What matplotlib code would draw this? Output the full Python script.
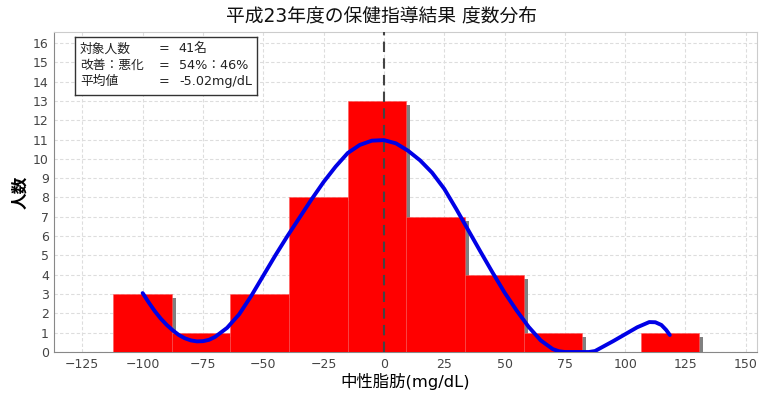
import matplotlib
matplotlib.use("Agg")
import matplotlib.pyplot as plt
import matplotlib.transforms as mtransforms

plt.rcParams['font.family'] = ['DejaVu Sans', 'Noto Sans CJK JP']

# Data
bin_edges = [-112.2, -87.9, -63.6, -39.3, -15.0, 9.3, 33.6, 57.9, 82.2, 106.5, 130.8]
counts = [3, 1, 3, 8, 13, 7, 4, 1, 0, 1]
curve_x = [-100, -97.5, -95, -92.5, -90, -87.5, -85, -82.5, -80, -77.5, -75, -72.5, -70,
           -65, -60, -55, -50, -45, -40, -35, -30, -25, -20, -15, -10, -5, 0,
           5, 10, 15, 20, 25, 30, 35, 40, 45, 50, 55, 60, 65, 70, 72.5, 75, 80, 85, 87.5,
           90, 95, 100, 105, 110, 112.5, 115, 117, 118.5]
curve_y = [3.05, 2.57, 2.12, 1.73, 1.4, 1.12, 0.88, 0.71, 0.6, 0.55, 0.56, 0.63, 0.78,
           1.25, 1.95, 2.9, 3.95, 5.0, 6.0, 6.95, 7.9, 8.8, 9.6, 10.3, 10.72, 10.94, 10.97,
           10.8, 10.42, 9.92, 9.28, 8.45, 7.4, 6.3, 5.2, 4.12, 3.08, 2.15, 1.3, 0.6, 0.15, 0.04, 0.0, 0.0, 0.0, 0.05,
           0.22, 0.56, 0.92, 1.28, 1.55, 1.54, 1.4, 1.14, 0.88]
x_ticks = [-125, -100, -75, -50, -25, 0, 25, 50, 75, 100, 125, 150]
y_ticks = list(range(0, 17))
title = "平成23年度の保健指導結果 度数分布"
x_label = "中性脂肪(mg/dL)"
y_label = "人数"
info_labels = ["対象人数", "改善：悪化", "平均値"]
info_values = ["41名", "54%：46%", "-5.02mg/dL"]
mean_line_x = 0

fig = plt.figure(figsize=(7.61, 3.94), dpi=100)
ax = fig.add_axes([0.0714, 0.1066, 0.9229, 0.8114])

lefts = bin_edges[:-1]
widths = [bin_edges[i + 1] - bin_edges[i] for i in range(len(counts))]

shadow_tr = ax.transData + mtransforms.ScaledTranslation(4 / 100, -4 / 100, fig.dpi_scale_trans)
shadow = ax.bar(lefts, counts, width=widths, align='edge', color='#808080', zorder=2)
for p in shadow:
    p.set_transform(shadow_tr)
ax.bar(lefts, counts, width=widths, align='edge', color='#ff0000',
       edgecolor='#ff5a5a', linewidth=0.4, zorder=3)

ax.axvline(mean_line_x, color='#444444', linestyle=(0, (5, 3)), linewidth=1.5, zorder=4)
ax.plot(curve_x, curve_y, color='#0000e6', linewidth=2.8, zorder=5,
        solid_capstyle='round', solid_joinstyle='round')

ax.set_xlim(-136.6, 154.5)
ax.set_ylim(0, 16.55)
ax.set_xticks(x_ticks)
ax.set_yticks(y_ticks)
ax.tick_params(axis='both', labelsize=9, colors='#444444', length=0, pad=4)
ax.grid(True, color='#dddddd', linestyle=(0, (3, 2)), linewidth=0.8, zorder=0)
ax.set_axisbelow(True)
for s in ['top', 'right']:
    ax.spines[s].set_color('#cccccc')
for s in ['left', 'bottom']:
    ax.spines[s].set_color('#888888')

fig.text(0.501, 1 - 17 / 394, title, fontsize=13.5, ha='center', va='center', color='#111111')
ax.set_xlabel(x_label, fontsize=11.8, labelpad=2)
ax.set_ylabel(y_label, fontsize=12, labelpad=3, fontweight='bold')

# info box
box_ax = fig.add_axes([75 / 761, 1 - 95 / 394, 182 / 761, 58 / 394])
box_ax.set_xlim(0, 1)
box_ax.set_ylim(0, 1)
box_ax.set_xticks([])
box_ax.set_yticks([])
box_ax.set_facecolor('white')
for s in box_ax.spines.values():
    s.set_color('#333333')
    s.set_linewidth(1.0)
ys = [0.797, 0.511, 0.232]
for yy, lab, val in zip(ys, info_labels, info_values):
    box_ax.text(0.027, yy, lab, fontsize=9.2, va='center', ha='left', color='#222222')
    box_ax.text(0.462, yy, "=", fontsize=9.2, va='center', ha='left', color='#222222')
    box_ax.text(0.571, yy, val, fontsize=9.2, va='center', ha='left', color='#222222')

fig.savefig("out.png", dpi=100)
